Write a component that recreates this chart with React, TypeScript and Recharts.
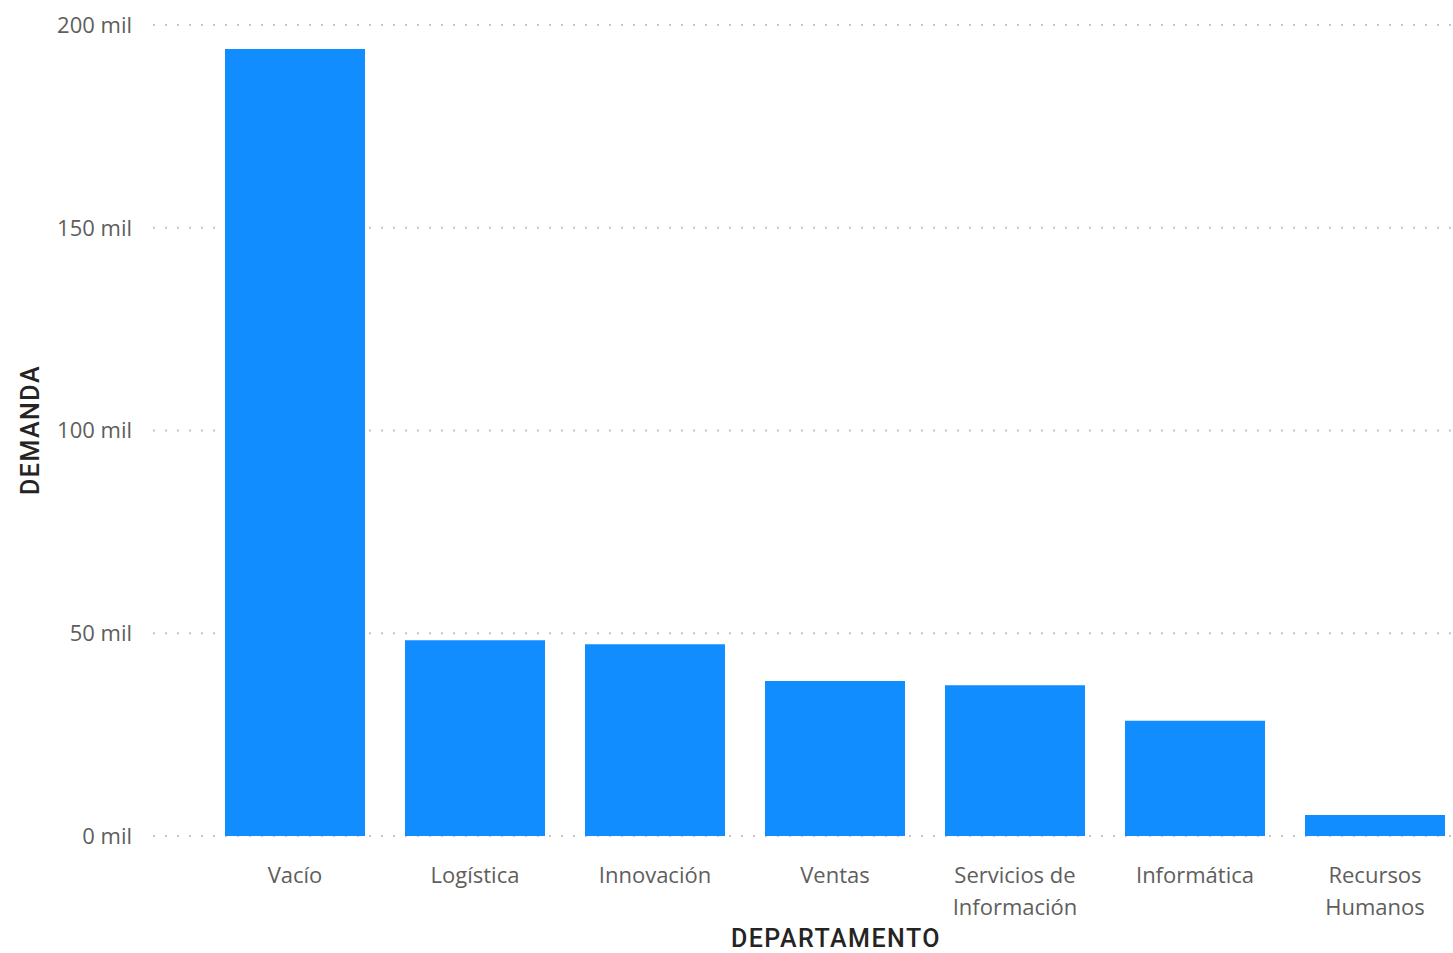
import React from 'react';
import { BarChart, Bar, XAxis, YAxis, CartesianGrid } from 'recharts';

// departamentos, ordenados por demanda
const departamentos = [
  'Vacío',
  'Logística',
  'Innovación',
  'Ventas',
  'Servicios de Información',
  'Informática',
  'Recursos Humanos',
];

// etiquetas del eje X tal como se parten en dos líneas
const etiquetas: Record<string, string[]> = {
  'Servicios de Información': ['Servicios de', 'Información'],
  'Recursos Humanos': ['Recursos', 'Humanos'],
};

const demanda = [194100, 48300, 47300, 38200, 37200, 28400, 5200];

const ticksY = [0, 50000, 100000, 150000, 200000];

const data = departamentos.map((d, i) => ({ departamento: d, demanda: demanda[i] }));

const TICK_FONT = '"Open Sans", "Noto Sans", sans-serif';
const TITLE_FONT = 'Roboto, "DejaVu Sans", sans-serif';

const TickX = (props: any) => {
  const { x, y, payload } = props;
  const lines = etiquetas[payload.value] || [payload.value];
  return (
    <text
      x={x}
      y={y + 47}
      textAnchor="middle"
      fill="#605E5C"
      fontSize={22}
      fontFamily={TICK_FONT}
    >
      {lines.map((l, i) => (
        <tspan key={i} x={x} dy={i === 0 ? 0 : 32}>
          {l}
        </tspan>
      ))}
    </text>
  );
};

const App: React.FC = () => {
  return (
    <div
      style={{
        position: 'absolute',
        left: 0,
        top: 0,
        width: 1453,
        height: 953,
        overflow: 'hidden',
        background: 'white',
      }}
    >
      <BarChart
        width={1470}
        height={953}
        data={data}
        margin={{ top: 25, right: 5, bottom: 0, left: 0 }}
      >
        <CartesianGrid
          vertical={false}
          stroke="#C8C6C4"
          strokeWidth={2}
          strokeDasharray="2 10"
        />
        <XAxis
          dataKey="departamento"
          height={117}
          axisLine={false}
          tickLine={false}
          tickSize={0}
          tickMargin={0}
          interval={0}
          padding={{ left: 52, right: 0 }}
          tick={<TickX />}
          label={{
            content: () => (
              <text
                x={836}
                y={947}
                textAnchor="middle"
                fill="#252423"
                fontSize={25}
                fontWeight={500}
                letterSpacing={1.5}
                fontFamily={TITLE_FONT}
              >
                DEPARTAMENTO
              </text>
            ),
          }}
        />
        <YAxis
          width={153}
          domain={[0, 200000]}
          ticks={ticksY}
          axisLine={false}
          tickLine={false}
          tickSize={0}
          tickMargin={21}
          tickFormatter={(v: number) => `${v / 1000} mil`}
          tick={{ fill: '#605E5C', fontSize: 22, fontFamily: TICK_FONT }}
          label={{
            content: () => (
              <text
                x={39}
                y={430}
                transform="rotate(-90, 39, 430)"
                textAnchor="middle"
                fill="#252423"
                fontSize={25}
                fontWeight={500}
                letterSpacing={1.5}
                fontFamily={TITLE_FONT}
              >
                DEMANDA
              </text>
            ),
          }}
        />
        <Bar dataKey="demanda" fill="#118DFF" barSize={140} isAnimationActive={false} />
      </BarChart>
    </div>
  );
};

export default App;
